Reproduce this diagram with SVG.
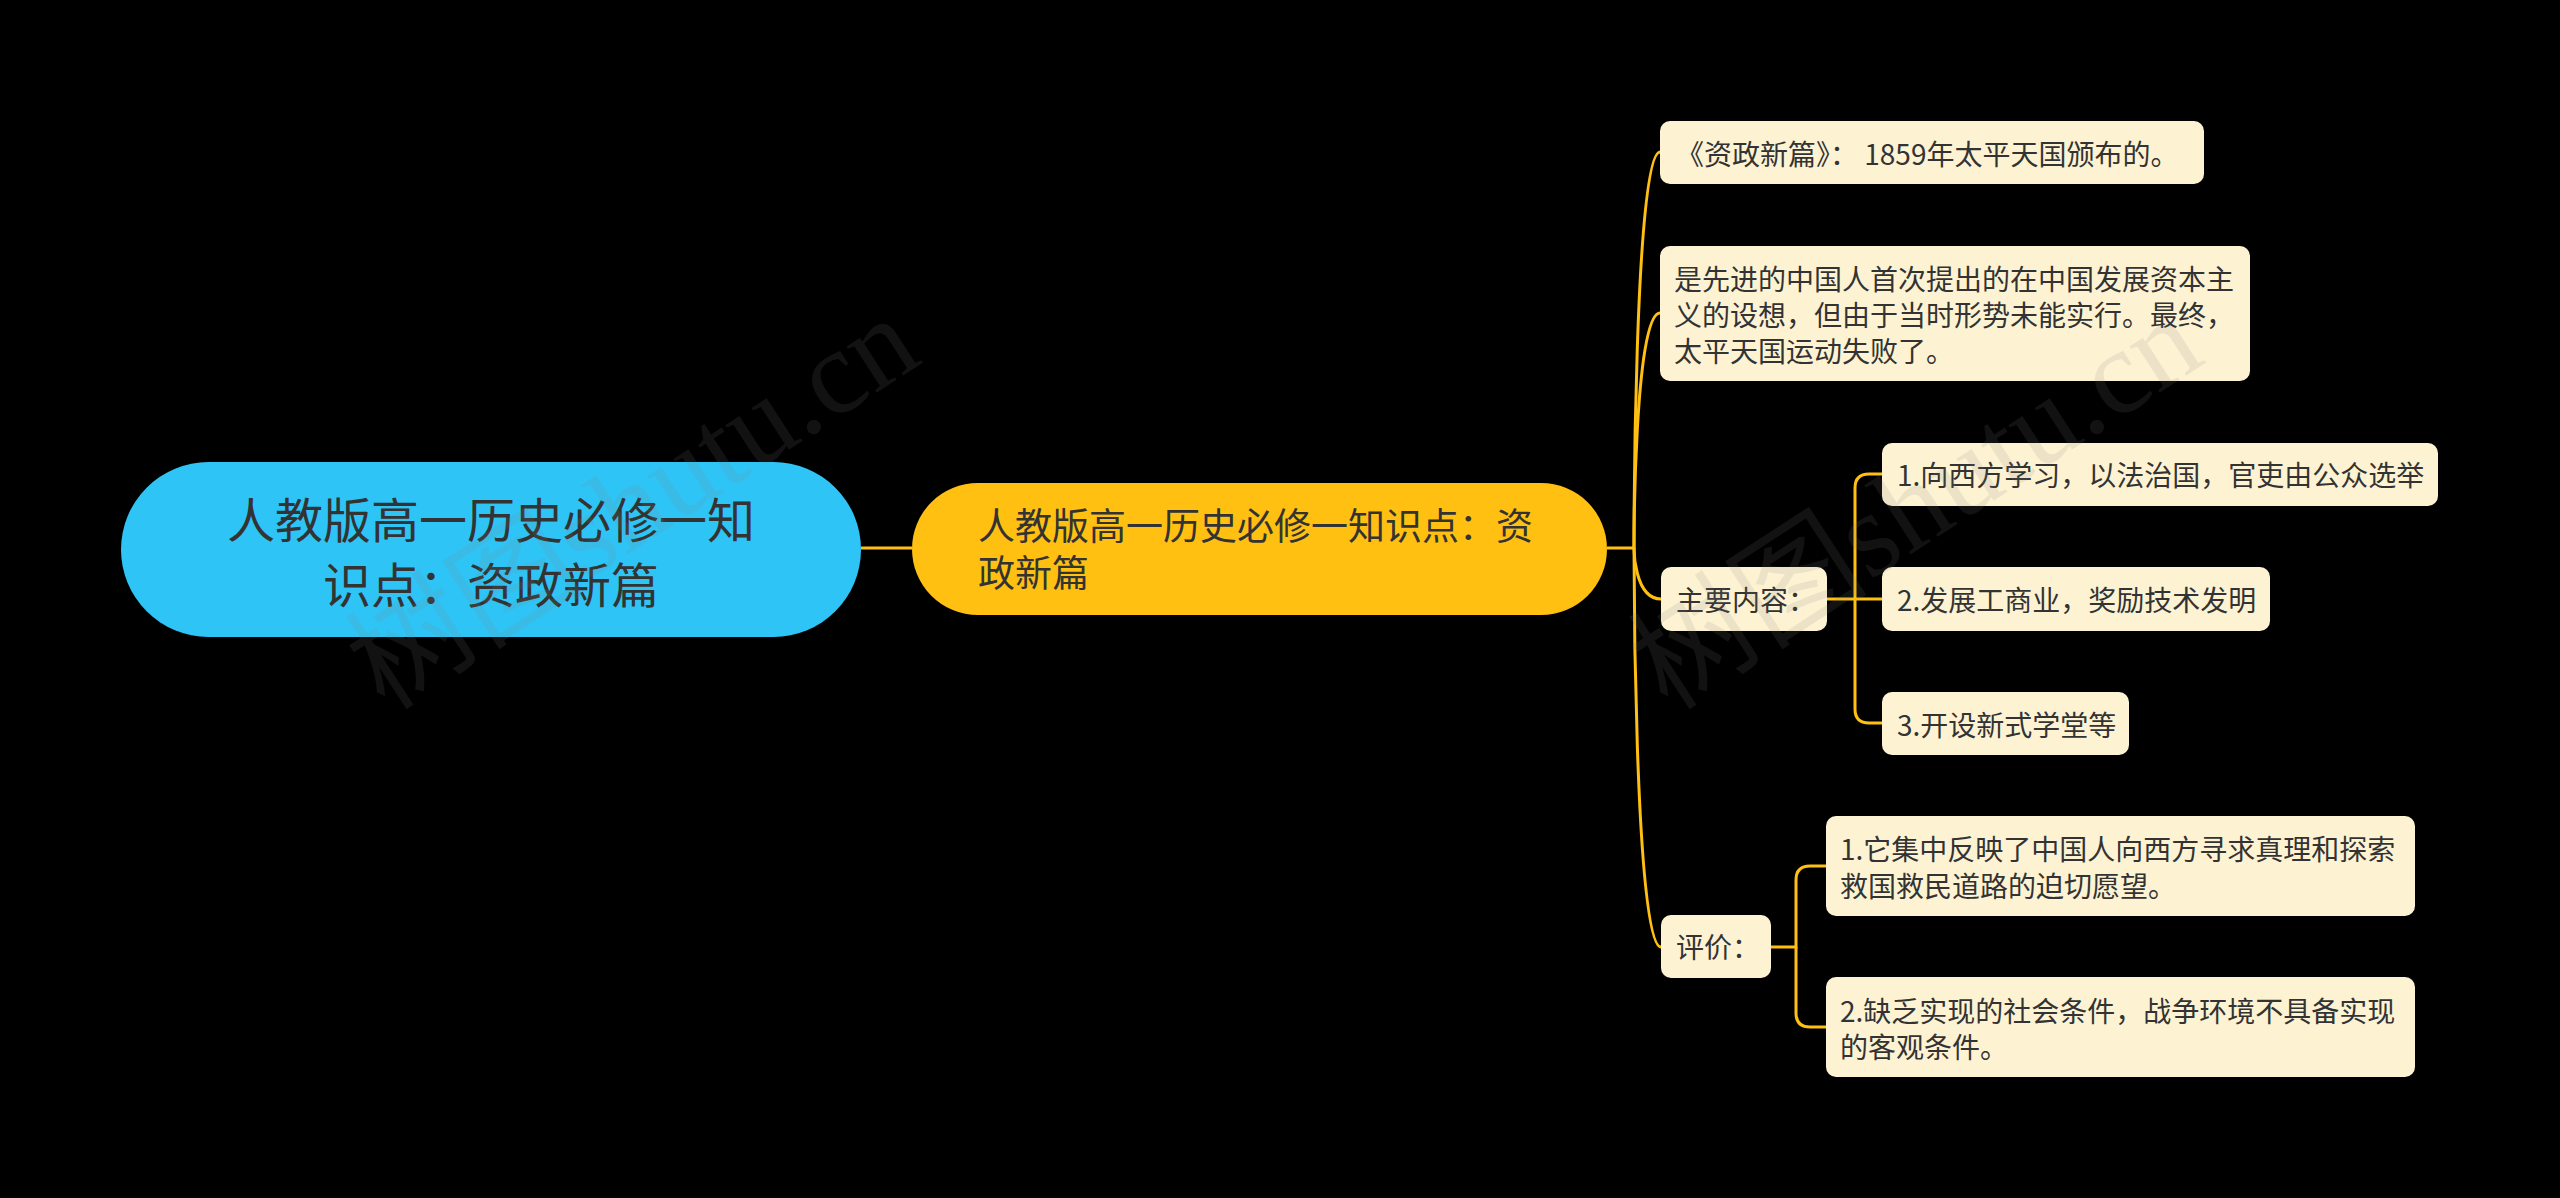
<svg xmlns="http://www.w3.org/2000/svg" width="2560" height="1198" viewBox="0 0 2560 1198">
<style>
.bg{fill:#000}
.cj{font-family:"Noto Sans CJK SC","Noto Sans",sans-serif;fill:#333}
.leaf rect{fill:#FDF3D3}
.leaf text{font-size:28px}
.ln{fill:none;stroke:#FFC012;stroke-width:3}
.wm{font-family:"Liberation Serif","Noto Sans CJK SC",serif;font-size:120px;fill:#808080;fill-opacity:0.14}
</style>
<rect class="bg" x="0" y="0" width="2560" height="1198"/>
<g id="connectors">
<path class="ln" d="M861 548 H912"/>
<path class="ln" d="M1607 548 H1634 C1634 548 1634 152 1660 152"/>
<path class="ln" d="M1634 548 C1634 548 1634 313 1660 313"/>
<path class="ln" d="M1634 548 C1634 548 1634 599 1661 599"/>
<path class="ln" d="M1634 548 C1634 548 1634 947 1661 947"/>
<path class="ln" d="M1827 599 H1882"/>
<path class="ln" d="M1855 599 V488 Q1855 474 1869 474 H1882"/>
<path class="ln" d="M1855 599 V709 Q1855 723 1869 723 H1882"/>
<path class="ln" d="M1771 947 H1796 V880 Q1796 866 1810 866 H1826"/>
<path class="ln" d="M1796 947 V1013 Q1796 1027 1810 1027 H1826"/>
</g>
<g id="root">
<rect x="121" y="462" width="740" height="175" rx="87.5" fill="#2EC5F6"/>
<text class="cj" font-size="48" text-anchor="middle"><tspan x="491" y="538">人教版高一历史必修一知</tspan><tspan x="491" y="603">识点：资政新篇</tspan></text>
</g>
<g id="main">
<rect x="912" y="483" width="695" height="132" rx="66" fill="#FFC012"/>
<text class="cj" font-size="37"><tspan x="978" y="540">人教版高一历史必修一知识点：资</tspan><tspan x="978" y="587">政新篇</tspan></text>
</g>
<g id="n1" class="leaf">
<rect x="1660" y="121" width="544" height="63" rx="10"/>
<text class="cj" x="1676" y="165">《资政新篇》： 1859年太平天国颁布的。</text>
</g>
<g id="n2" class="leaf">
<rect x="1660" y="246" width="590" height="135" rx="10"/>
<text class="cj"><tspan x="1674" y="290">是先进的中国人首次提出的在中国发展资本主</tspan><tspan x="1674" y="326">义的设想，但由于当时形势未能实行。最终，</tspan><tspan x="1674" y="362">太平天国运动失败了。</tspan></text>
</g>
<g id="n3" class="leaf">
<rect x="1661" y="567" width="166" height="64" rx="10"/>
<text class="cj" x="1676" y="611">主要内容：</text>
</g>
<g id="n3a" class="leaf">
<rect x="1882" y="443" width="556" height="63" rx="10"/>
<text class="cj" x="1897" y="486">1.向西方学习，以法治国，官吏由公众选举</text>
</g>
<g id="n3b" class="leaf">
<rect x="1882" y="567" width="388" height="64" rx="10"/>
<text class="cj" x="1897" y="611">2.发展工商业，奖励技术发明</text>
</g>
<g id="n3c" class="leaf">
<rect x="1882" y="692" width="247" height="63" rx="10"/>
<text class="cj" x="1897" y="736">3.开设新式学堂等</text>
</g>
<g id="n4" class="leaf">
<rect x="1661" y="915" width="110" height="63" rx="10"/>
<text class="cj" x="1676" y="958">评价：</text>
</g>
<g id="n4a" class="leaf">
<rect x="1826" y="816" width="589" height="100" rx="10"/>
<text class="cj"><tspan x="1840" y="860">1.它集中反映了中国人向西方寻求真理和探索</tspan><tspan x="1840" y="897">救国救民道路的迫切愿望。</tspan></text>
</g>
<g id="n4b" class="leaf">
<rect x="1826" y="977" width="589" height="100" rx="10"/>
<text class="cj"><tspan x="1840" y="1022">2.缺乏实现的社会条件，战争环境不具备实现</tspan><tspan x="1840" y="1058">的客观条件。</tspan></text>
</g>
<g id="watermark">
<text class="wm" transform="translate(385 712) rotate(-33)">树图shutu.cn</text>
<text class="wm" transform="translate(1668 712) rotate(-33)">树图shutu.cn</text>
</g>
</svg>
